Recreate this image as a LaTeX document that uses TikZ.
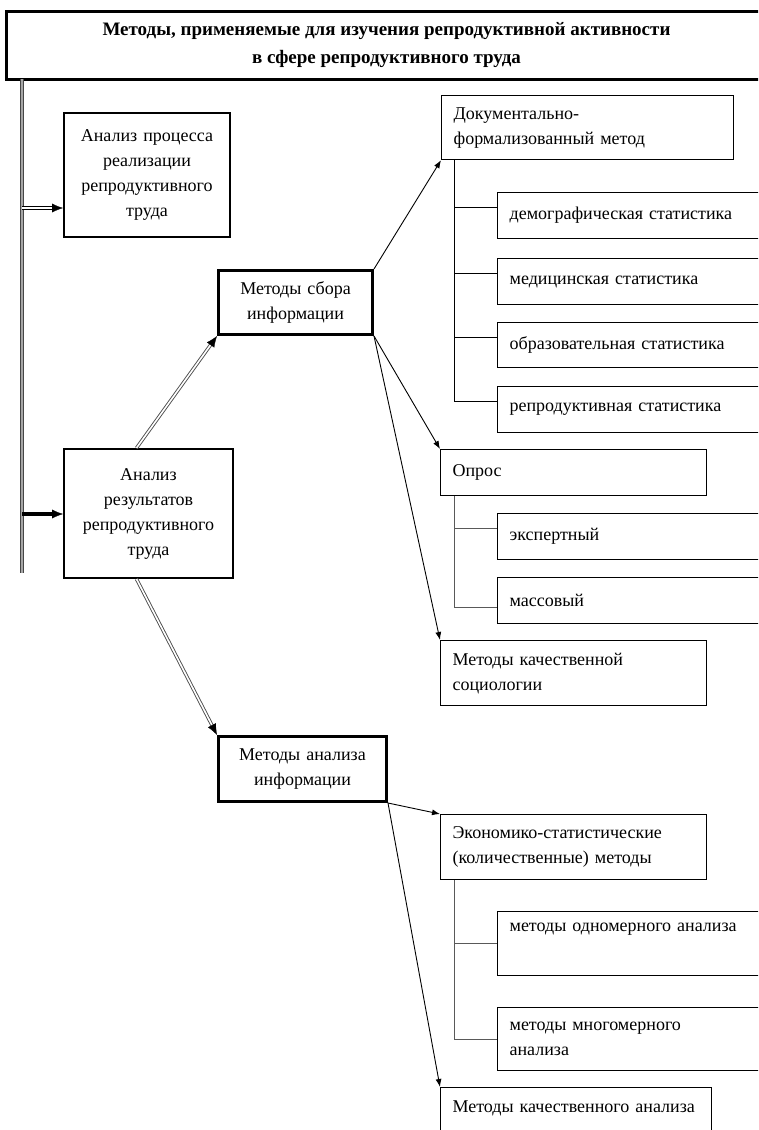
\documentclass[tikz,border=0pt]{standalone}
\usepackage{fontspec}
\setmainfont{Liberation Serif}
\usetikzlibrary{arrows.meta,calc}
\begin{document}
\begin{tikzpicture}[x=1pt,y=-1pt,
  txt/.style={font=\fontsize{18}{25}\selectfont},
  box/.style={draw, line width=1.2pt, inner ysep=0pt, anchor=north west, txt},
  lbox/.style={box, align=left, inner xsep=12pt},
  cbox/.style={box, align=center, inner xsep=4pt},
  bar/.style={draw=gray!55!black, double=gray!70, double distance=2.2pt, line width=1pt},
  dbl/.style={draw=black!70, double=white, double distance=1.6pt, line width=0.9pt},
  bighead/.style={-{Latex[length=11pt,width=9pt]}, line width=0.3pt},
  thinarr/.style={-{Latex[length=8pt,width=6pt]}, line width=0.9pt},
  tree/.style={line width=1pt},
  gtree/.style={line width=1pt, draw=black!65}
]
\clip (0,0) rectangle (758,1130);
\useasboundingbox (0,0) rectangle (758,1130);

% title
\node[box, line width=3pt, align=center, minimum width=760pt, minimum height=68pt,
  font=\fontsize{19}{28}\selectfont\bfseries] (title) at (5,10)
  {Методы, применяемые для изучения репродуктивной активности\\в сфере репродуктивного труда};

% left column
\node[cbox, line width=2pt, text width=158pt, minimum width=166pt, minimum height=124pt] (proc) at (63,112)
  {Анализ процесса\\реализации\\репродуктивного\\труда};
\node[cbox, line width=2pt, text width=161pt, minimum width=169pt, minimum height=129pt] (res) at (63,448)
  {Анализ\\результатов\\репродуктивного\\труда\\[-10pt]};

% middle
\node[cbox, line width=3pt, text width=146pt, minimum width=154pt, minimum height=64pt] (sbor) at (217,269)
  {Методы сбора\\информации};
\node[cbox, line width=3pt, text width=160pt, minimum width=168pt, minimum height=65pt] (analiz) at (217,735)
  {Методы анализа\\информации};

% right: collection
\node[lbox, text width=268pt, minimum height=64pt] (dok) at (441,95)
  {Документально-\\формализованный метод};
\node[lbox, text width=259pt, minimum height=46pt] (demo) at (497,192) {демографическая статистика};
\node[lbox, text width=259pt, minimum height=46pt] (med) at (497,258) {медицинская статистика};
\node[lbox, text width=259pt, minimum height=45pt] (obr) at (497,322) {образовательная статистика};
\node[lbox, text width=259pt, minimum height=46pt] (rep) at (497,386) {репродуктивная статистика};

\node[lbox, text width=242pt, minimum height=46pt] (opros) at (440,449) {Опрос};
\node[lbox, text width=259pt, minimum height=46pt] (exp) at (497,513) {экспертный};
\node[lbox, text width=259pt, minimum height=46pt] (mass) at (497,577) {массовый};

\node[lbox, text width=242pt, minimum height=65pt] (kach) at (440,640)
  {Методы качественной\\социологии};

% right: analysis
\node[lbox, text width=242pt, minimum height=65pt] (econ) at (440,814)
  {Экономико-статистические\\(количественные) методы};
\node[lbox, text width=259pt, minimum height=64pt] (odn) at (497,911)
  {методы одномерного анализа\\\strut};
\node[lbox, text width=259pt, minimum height=63pt] (mnog) at (497,1007)
  {методы многомерного\\анализа};
\node[lbox, text width=247pt, minimum height=70pt] (kachan) at (440,1087)
  {Методы качественного анализа\\\strut};

% left bar
\coordinate (bt) at (22,79);
\coordinate (bb) at (22,573);
\coordinate (b1) at (22,208);
\coordinate (b2) at (22,514);
\draw[bar] (bt) -- (bb);

\draw[draw=black, double=white, double distance=1.8pt, line width=0.8pt, shorten >=9pt] (b1) -- (b1 -| proc.west);
\draw[bighead] ($(b1 -| proc.west)!11pt!(b1)$) -- (b1 -| proc.west);
\draw[line width=4pt, shorten >=9pt] (b2) -- (b2 -| res.west);
\draw[bighead] ($(b2 -| res.west)!11pt!(b2)$) -- (b2 -| res.west);

% double arrows from results
\coordinate (rn) at ([xshift=-12pt]res.north);
\coordinate (rs) at ([xshift=-12pt]res.south);
\draw[dbl, shorten >=9pt] (rn) -- (sbor.south west);
\draw[bighead] ($(sbor.south west)!11pt!(rn)$) -- (sbor.south west);
\draw[dbl, shorten >=9pt] (rs) -- (analiz.north west);
\draw[bighead] ($(analiz.north west)!11pt!(rs)$) -- (analiz.north west);

% thin arrows
\draw[thinarr] (sbor.north east) -- (dok.south west);
\draw[thinarr] (sbor.south east) -- (opros.north west);
\draw[thinarr] (sbor.south east) -- (kach.north west);
\draw[thinarr] (analiz.south east) -- (econ.north west);
\draw[thinarr] (analiz.south east) -- (kachan.north west);

% trees
\draw[tree] ([xshift=13pt]dok.south west) |- ([yshift=8pt]demo.west);
\draw[tree] ([xshift=13pt]dok.south west) |- ([yshift=8pt]med.west);
\draw[tree] ([xshift=13pt]dok.south west) |- ([yshift=8pt]obr.west);
\draw[tree] ([xshift=13pt]dok.south west) |- ([yshift=8pt]rep.west);

\draw[gtree] ([xshift=14pt]opros.south west) |- ([yshift=8pt]exp.west);
\draw[gtree] ([xshift=14pt]opros.south west) |- ([yshift=-7pt]mass.west);

\draw[gtree] ([xshift=14pt]econ.south west) |- (odn.west);
\draw[gtree] ([xshift=14pt]econ.south west) |- (mnog.west);
\end{tikzpicture}
\end{document}
